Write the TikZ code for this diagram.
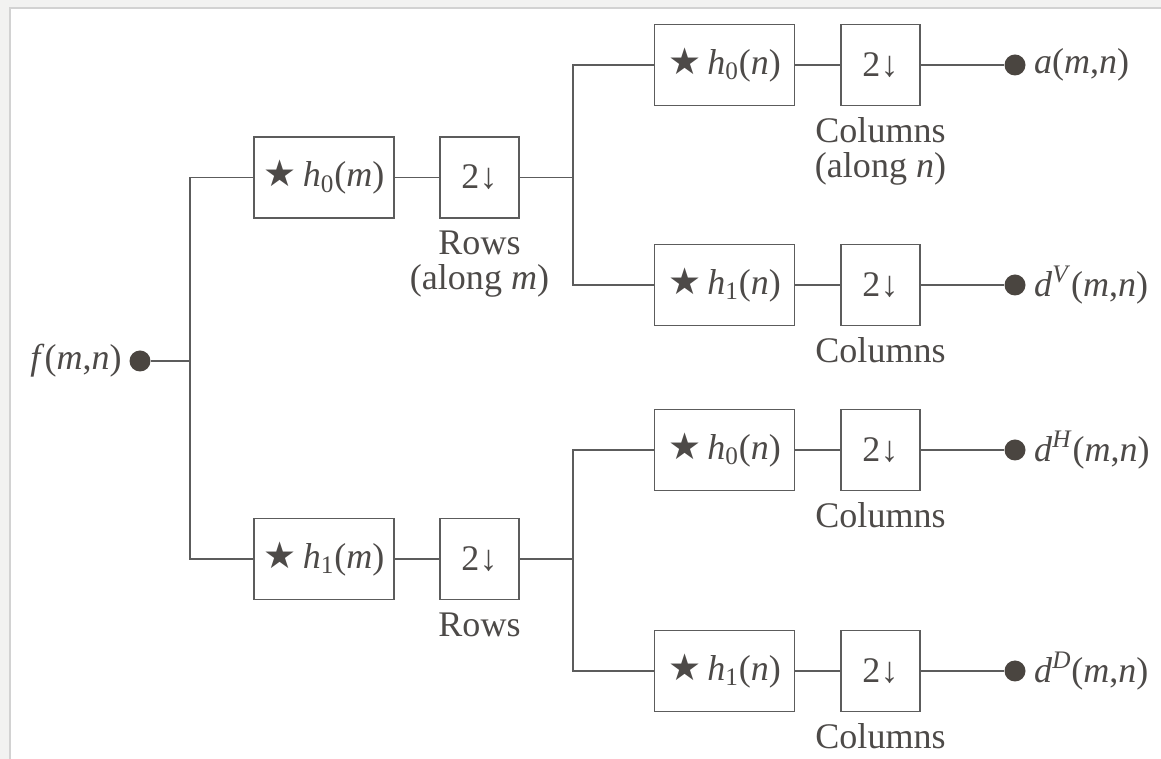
\documentclass[tikz,border=0pt]{standalone}
\usepackage{fontspec}
\setmainfont{Liberation Serif}
\newfontfamily\symfont{DejaVu Sans}
\usetikzlibrary{positioning,calc}
\definecolor{ink}{HTML}{4D4A48}
\definecolor{wire}{HTML}{5C5C5C}
\definecolor{dotfill}{HTML}{4A4540}
\definecolor{paper}{HTML}{F2F2F1}
\definecolor{edge}{HTML}{D2D2D2}
\newcommand{\conv}{{\symfont\fontsize{21}{20}\selectfont ★}\,}
\newcommand{\hh}[2]{\textit{h}\textsubscript{#1}(\textit{#2})}
\newcommand{\mn}{(\textit{m},\textit{n})}

\tikzset{
  filt/.style={draw=wire, line width=1.1pt, minimum width=2.8cm, minimum height=1.62cm, inner sep=0pt, text=ink},
  down/.style={draw=wire, line width=1.1pt, minimum width=1.58cm, minimum height=1.62cm, inner sep=0pt, text=ink},
  wirel/.style={draw=wire, line width=1.1pt},
  tapdot/.style={circle, fill=dotfill, minimum size=0.42cm, inner sep=0pt},
  note/.style={text=ink, align=center, inner sep=0pt}
}

\begin{document}
\begin{tikzpicture}[x=0.02cm, y=-0.02cm, font=\fontsize{20.5}{19.5}\selectfont]
\useasboundingbox (0,0) rectangle (1161,759);
\fill[paper] (0,0) rectangle (1161,759);
\fill[white] (10,8) rectangle (1161,759);
\draw[edge, line width=1.2pt] (1161,8) -- (10,8) -- (10,759);

% input
\node[tapdot] (fin) at (140,361) {};
\node[note, anchor=east] (fl) at (122,361) {\textit{f}\mn};
\coordinate (sp0) at (190,361);

% rows
\node[filt] (hm0) at (324,177.5) {\conv\hh{0}{m}};
\node[down] (dm0) at (479.5,177.5) {2↓};
\node[filt] (hm1) at (324,559) {\conv\hh{1}{m}};
\node[down] (dm1) at (479.5,559) {2↓};
\node[note, anchor=north] at ($(dm0.south)+(0,12)$) {Rows\\(along \textit{m})};
\node[note, anchor=north] at ($(dm1.south)+(0,12)$) {Rows};
\coordinate (sp1) at (573,177.5);
\coordinate (sp2) at (573,559);

% columns
\node[filt] (hn00) at (724.5,65) {\conv\hh{0}{n}};
\node[down] (dn00) at (880.5,65) {2↓};
\node[filt] (hn01) at (724.5,285) {\conv\hh{1}{n}};
\node[down] (dn01) at (880.5,285) {2↓};
\node[filt] (hn10) at (724.5,450) {\conv\hh{0}{n}};
\node[down] (dn10) at (880.5,450) {2↓};
\node[filt] (hn11) at (724.5,671) {\conv\hh{1}{n}};
\node[down] (dn11) at (880.5,671) {2↓};
\node[note, anchor=north] at ($(dn00.south)+(0,11)$) {Columns\\(along \textit{n})};
\node[note, anchor=north] at ($(dn01.south)+(0,11)$) {Columns};
\node[note, anchor=north] at ($(dn10.south)+(0,11)$) {Columns};
\node[note, anchor=north] at ($(dn11.south)+(0,11)$) {Columns};

% outputs
\node[tapdot] (oa) at (1015,65) {};
\node[tapdot] (ov) at (1015,285) {};
\node[tapdot] (oh) at (1015,450) {};
\node[tapdot] (od) at (1015,671) {};
\node[note, anchor=west] at ($(oa.east)+(8,0)$) {\textit{a}\mn};
\node[note, anchor=west] at ($(ov.east)+(8,0)$) {\textit{d}\textsuperscript{\textit{V}}\mn};
\node[note, anchor=west] at ($(oh.east)+(8,0)$) {\textit{d}\textsuperscript{\textit{H}}\mn};
\node[note, anchor=west] at ($(od.east)+(8,0)$) {\textit{d}\textsuperscript{\textit{D}}\mn};

% wires
\draw[wirel] (fin) -- (sp0);
\draw[wirel] (hm0.west) -| (sp0) |- (hm1.west);
\draw[wirel] (hm0) -- (dm0);
\draw[wirel] (hm1) -- (dm1);
\draw[wirel] (dm0) -- (sp1);
\draw[wirel] (dm1) -- (sp2);
\draw[wirel] (hn00.west) -| (sp1) |- (hn01.west);
\draw[wirel] (hn10.west) -| (sp2) |- (hn11.west);
\draw[wirel] (hn00) -- (dn00);
\draw[wirel] (hn01) -- (dn01);
\draw[wirel] (hn10) -- (dn10);
\draw[wirel] (hn11) -- (dn11);
\draw[wirel] (dn00) -- (oa);
\draw[wirel] (dn01) -- (ov);
\draw[wirel] (dn10) -- (oh);
\draw[wirel] (dn11) -- (od);
\end{tikzpicture}
\end{document}
